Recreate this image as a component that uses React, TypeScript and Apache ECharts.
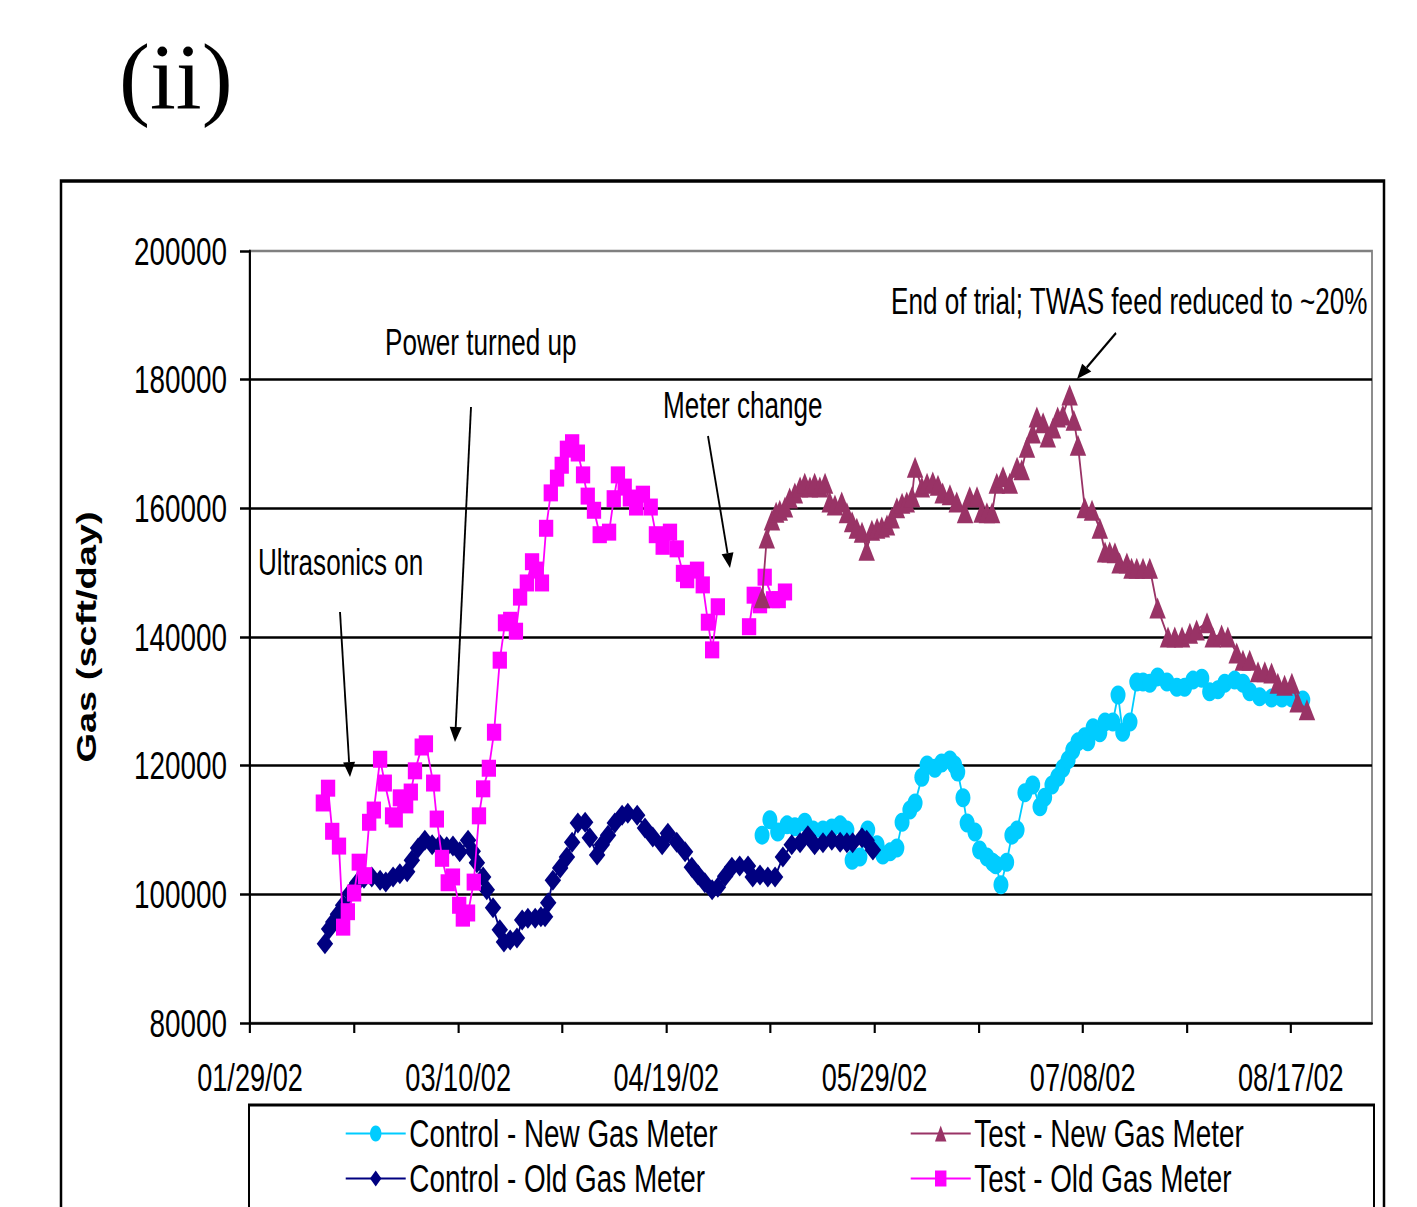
import React, { useEffect, useRef } from "react";
import * as echarts from "echarts";

// The reference figure is horizontally squeezed; we draw on a wider canvas and squeeze it.
const INNER_W = 1982;
const H = 1207;
const SX = 1417 / INNER_W;
const ix = (x: number) => x / SX;

const FONT = '"Liberation Sans", Arial, Helvetica, sans-serif';

// x axis: days since 01/29/02
const xTickDays = [0, 20, 40, 60, 80, 100, 120, 140, 160, 180, 200];
const xLabelDays = [0, 40, 80, 120, 160, 200];
const xTickLabels = ["01/29/02", "03/10/02", "04/19/02", "05/29/02", "07/08/02", "08/17/02"];
const xMax = 215.6;
const yMin = 80000;
const yMax = 200000;
const yStep = 20000;

// Control - New Gas Meter
const controlNewDays = [98.4, 99.9, 101.4, 103.2, 104.7, 106.6, 108.2, 110.1, 111.8, 113.4, 114.7, 115.7, 117.2, 118.7, 120.5, 121.6, 123.0, 124.3, 125.3, 126.8, 127.8, 129.1, 130.1, 131.6, 132.9, 134.5, 135.4, 136.0, 137.0, 137.8, 139.3, 140.2, 141.6, 142.7, 143.3, 144.3, 145.4, 146.4, 147.4, 148.9, 150.4, 151.8, 152.7, 154.1, 155.2, 156.2, 157.2, 158.1, 159.1, 160.4, 161.0, 162.0, 163.3, 164.3, 165.8, 166.8, 167.7, 169.1, 170.4, 171.6, 172.9, 174.4, 176.2, 178.1, 179.6, 181.2, 182.9, 184.4, 186.0, 187.3, 189.2, 190.8, 192.1, 194.0, 196.3, 198.3, 200.2, 202.3];
const controlNewGas = [109200, 111600, 109700, 110800, 110500, 111200, 110000, 110000, 110300, 110800, 110000, 105300, 105800, 110000, 107700, 106100, 106600, 107200, 111200, 113100, 114200, 118200, 120100, 119600, 120400, 120900, 120100, 119000, 115000, 111100, 109700, 106900, 105800, 105000, 104600, 101500, 105000, 109200, 110000, 115800, 117000, 113600, 115100, 117000, 118200, 119600, 120900, 122400, 123700, 124500, 123700, 125900, 125100, 126800, 126800, 131000, 125200, 126800, 133000, 133000, 132800, 133800, 133000, 132200, 132200, 133300, 133600, 131500, 131800, 132800, 133300, 132800, 131500, 130700, 130500, 130500, 130500, 130200];

// Control - Old Gas Meter
const controlOldDays = [14.4, 15.2, 16.0, 16.9, 17.9, 19.2, 20.6, 21.9, 23.4, 25.0, 26.1, 27.5, 28.8, 30.2, 31.1, 32.3, 33.6, 35.0, 36.5, 37.8, 39.0, 40.3, 41.9, 42.8, 43.6, 44.8, 45.5, 46.7, 48.0, 48.8, 50.0, 51.3, 52.3, 53.4, 54.8, 55.9, 56.7, 57.3, 58.2, 59.6, 60.9, 61.9, 63.0, 64.4, 65.3, 66.7, 67.6, 68.8, 70.1, 71.5, 72.6, 74.4, 75.9, 77.4, 79.2, 80.3, 82.0, 83.6, 84.9, 86.1, 87.4, 88.8, 89.9, 91.3, 92.6, 94.1, 95.7, 96.6, 98.0, 99.5, 100.9, 102.4, 104.1, 105.7, 107.2, 108.5, 110.1, 111.8, 113.4, 114.7, 115.8, 117.6, 118.5, 119.7];
const controlOldGas = [92300, 94600, 95700, 96900, 98300, 100200, 101800, 102500, 102700, 102200, 101900, 102700, 103200, 103500, 105300, 107200, 108400, 107700, 107700, 107400, 107500, 106600, 108400, 106700, 104900, 102700, 100700, 97900, 94500, 92600, 92900, 93200, 96000, 96300, 96300, 96500, 96500, 98700, 102200, 104100, 105800, 108100, 111100, 111200, 108800, 106100, 107700, 109200, 111100, 112300, 112600, 112300, 110300, 108900, 107700, 109500, 108100, 106600, 104200, 103000, 101800, 100700, 101100, 102800, 104200, 104400, 104400, 102700, 103000, 102700, 102700, 105800, 107700, 108000, 109100, 107700, 108000, 108400, 108100, 108000, 108000, 108800, 108400, 106900];

// Test - New Gas Meter
const testNewDays = [98.4, 99.3, 100.3, 101.1, 101.8, 102.8, 103.7, 104.7, 105.7, 106.6, 107.6, 108.5, 109.5, 110.5, 111.4, 112.4, 113.7, 114.7, 115.7, 116.6, 117.6, 118.5, 119.5, 120.5, 121.4, 122.4, 123.3, 124.3, 125.3, 126.2, 127.2, 127.8, 129.1, 130.1, 131.2, 132.2, 133.1, 134.5, 135.8, 137.4, 138.3, 139.7, 140.6, 141.6, 142.6, 143.5, 144.7, 146.0, 147.4, 148.3, 149.3, 150.4, 151.2, 152.4, 153.3, 154.3, 155.2, 156.2, 157.5, 158.3, 159.1, 160.4, 161.8, 163.3, 164.3, 165.2, 166.2, 167.1, 168.5, 169.4, 170.4, 171.6, 172.9, 174.4, 176.4, 177.7, 179.1, 180.6, 181.9, 183.9, 185.0, 186.7, 187.9, 189.6, 190.8, 192.1, 193.7, 195.0, 196.3, 197.5, 198.8, 200.2, 201.3, 203.1];
const testNewGas = [146100, 155400, 158200, 159400, 159700, 160200, 161600, 162400, 163300, 163900, 163300, 163900, 163300, 163900, 161000, 160500, 161000, 159300, 157900, 156900, 156300, 153500, 156600, 156900, 157100, 157400, 158500, 160100, 160800, 161000, 161800, 166400, 163300, 163900, 164100, 163600, 162400, 162100, 161000, 159300, 161800, 161800, 159400, 159300, 159300, 163900, 164900, 163900, 166400, 166000, 169500, 171700, 174200, 173300, 171100, 172500, 174200, 174500, 177600, 173700, 169800, 160100, 159700, 156900, 153200, 153200, 153100, 151500, 151500, 150700, 150700, 150700, 150700, 144500, 140000, 140000, 140000, 140600, 141100, 142200, 140000, 140300, 140000, 137500, 136400, 136400, 134600, 134600, 134400, 132800, 132500, 132800, 129900, 128700];

// Test - Old Gas Meter (null = gap at the meter change)
const testOldDays = [14.0, 15.0, 15.8, 17.1, 17.9, 18.8, 20.0, 20.9, 22.1, 22.9, 23.8, 25.0, 25.9, 27.3, 28.0, 28.8, 30.0, 30.9, 31.7, 33.0, 33.8, 35.2, 35.9, 36.9, 38.0, 39.0, 40.2, 40.9, 41.9, 43.0, 44.0, 44.8, 45.9, 46.9, 48.0, 49.0, 50.0, 51.1, 51.9, 53.2, 54.2, 55.1, 56.1, 56.9, 57.8, 59.0, 59.9, 60.9, 61.9, 63.0, 64.0, 64.9, 66.1, 67.2, 69.0, 69.9, 70.7, 72.0, 73.0, 74.2, 75.5, 77.0, 78.0, 79.3, 80.7, 82.0, 83.2, 84.0, 85.9, 87.0, 88.0, 88.8, 89.9, 92.0, 95.9, 96.8, 98.0, 98.9, 100.5, 101.6, 102.8];
const testOldGas = [114200, 116500, 109800, 107500, 94900, 97300, 100200, 105000, 102900, 111200, 113100, 121000, 117300, 112200, 111700, 115000, 113900, 115900, 119200, 122900, 123400, 117300, 111700, 105600, 101800, 102700, 98300, 96300, 97100, 101900, 112200, 116400, 119600, 125200, 136400, 142200, 142600, 140900, 146200, 148400, 151700, 150400, 148400, 156900, 162400, 164700, 166700, 169200, 170200, 168600, 165200, 161900, 159700, 155900, 156300, 161500, 165200, 163300, 161600, 160200, 162200, 160200, 155900, 154100, 156300, 153700, 149900, 148900, 150400, 148100, 142300, 138000, 144700, null, 141600, 146500, 145000, 149300, 145800, 145800, 147000];

const zip = (xs: number[], ys: (number | null)[]) => xs.map((x, i) => [x, ys[i]]);

const annotations = [
  { text: "Ultrasonics on", x: 258, y: 562 },
  { text: "Power turned up", x: 385, y: 342 },
  { text: "Meter change", x: 663, y: 405 },
  { text: "End of trial; TWAS feed reduced to ~20%", x: 891, y: 301 },
];
const arrows = [
  [340, 612, 350, 777],
  [471, 407, 455, 742],
  [708, 436, 730, 568],
  [1116, 333, 1077, 379],
];

function arrowEls(a: number[]) {
  const [x1, y1, x2, y2] = a;
  const dx = x2 - x1, dy = y2 - y1;
  const len = Math.hypot(dx, dy);
  const ux = dx / len, uy = dy / len;
  const hl = 15, hw = 6;
  const bx = x2 - ux * hl, by = y2 - uy * hl;
  const p1 = [bx - uy * hw, by + ux * hw];
  const p2 = [bx + uy * hw, by - ux * hw];
  return [
    { type: "line", silent: true, shape: { x1: ix(x1), y1, x2: ix(bx), y2: by }, style: { stroke: "#000", lineWidth: 2.6 } },
    { type: "polygon", silent: true, shape: { points: [[ix(x2), y2], [ix(p1[0]), p1[1]], [ix(p2[0]), p2[1]]] }, style: { fill: "#000" } },
  ];
}

const seriesDefs = [
  { name: "Control - New Gas Meter", xs: controlNewDays, ys: controlNewGas, color: "#00CCFF", symbol: "circle", size: [21, 19], z: 2, lx: 345, ly: 1134 },
  { name: "Control - Old Gas Meter", xs: controlOldDays, ys: controlOldGas, color: "#000080", symbol: "diamond", size: [23, 21], z: 3, lx: 345, ly: 1179 },
  { name: "Test - Old Gas Meter", xs: testOldDays, ys: testOldGas, color: "#FF00FF", symbol: "rect", size: [20, 17], z: 4, lx: 910, ly: 1179 },
  { name: "Test - New Gas Meter", xs: testNewDays, ys: testNewGas, color: "#993366", symbol: "triangle", size: [23, 21], z: 5, lx: 910, ly: 1134 },
];

export default function App() {
  const ref = useRef<HTMLDivElement>(null);
  useEffect(() => {
    if (!ref.current) return;
    const chart = echarts.init(ref.current, undefined, { renderer: "svg" });
    const graphics: any[] = [
      {
        type: "text", silent: true, x: ix(119), y: 77, scaleX: 1 / SX,
        style: { text: "(ii)", font: '93px "Liberation Serif", "Times New Roman", serif', fill: "#000", textAlign: "left", verticalAlign: "middle", textVerticalAlign: "middle" },
      },
      {
        type: "rect", silent: true, shape: { x: ix(61), y: 181, width: ix(1384) - ix(61), height: 1200 },
        style: { fill: "none", stroke: "#000", lineWidth: 3.5 },
      },
      {
        type: "rect", silent: true, shape: { x: ix(249), y: 1105, width: ix(1374) - ix(249), height: 300 },
        style: { fill: "none", stroke: "#000", lineWidth: 2.8 },
      },
      ...annotations.map((a) => ({
        type: "text", silent: true, x: ix(a.x), y: a.y,
        style: { text: a.text, font: `36.5px ${FONT}`, fill: "#000", textAlign: "left", verticalAlign: "middle", textVerticalAlign: "middle" },
      })),
      ...arrows.flatMap(arrowEls),
    ];
    chart.setOption({
      animation: false,
      backgroundColor: "#fff",
      grid: {
        left: ix(250), right: INNER_W - ix(1372), top: 251, bottom: H - 1023,
        show: true, borderColor: "#808080", borderWidth: 2.5, backgroundColor: "transparent",
      },
      xAxis: {
        type: "value", min: 0, max: xMax,
        axisLine: { show: true, onZero: false, lineStyle: { color: "#000", width: 2.5 } },
        axisTick: { show: true, customValues: xTickDays, length: 10, lineStyle: { color: "#000", width: 3 } },
        axisLabel: {
          customValues: xLabelDays,
          formatter: (v: number) => { const i = xLabelDays.indexOf(Math.round(v)); return i >= 0 ? xTickLabels[i] : ""; },
          fontSize: 38, fontFamily: FONT, color: "#000", margin: 36,
        },
        splitLine: { show: false },
      },
      yAxis: {
        type: "value", min: yMin, max: yMax, interval: yStep,
        axisLine: { show: true, lineStyle: { color: "#000", width: 3 } },
        axisTick: { show: true, length: ix(10), lineStyle: { color: "#000", width: 2.5 } },
        axisLabel: { fontSize: 39, fontFamily: FONT, color: "#000", margin: 32, formatter: (v: number) => String(Math.round(v)) },
        splitLine: { show: true, showMaxLine: false, showMinLine: false, lineStyle: { color: "#000", width: 2.5 } },
        name: "Gas (scft/day)", nameLocation: "middle", nameRotate: 90, nameGap: 209,
        nameTextStyle: { fontSize: 38, fontWeight: "bold", fontFamily: FONT, color: "#000" },
      },
      legend: seriesDefs.map((s) => ({
        data: [s.name], left: ix(s.lx), top: s.ly - 20, padding: 0, itemGap: 0,
        itemWidth: ix(60), itemHeight: 20, selectedMode: false,
        textStyle: { fontSize: 39, fontFamily: FONT, color: "#000" },
      })),
      series: seriesDefs.map((s) => ({
        name: s.name, type: "line", data: zip(s.xs, s.ys), z: s.z,
        symbol: s.symbol, symbolSize: s.size, showSymbol: true,
        connectNulls: false,
        itemStyle: { color: s.color },
        lineStyle: { color: s.color, width: 2.5 },
        emphasis: { disabled: true },
      })),
      graphic: graphics,
    });
    return () => chart.dispose();
  }, []);
  return (
    <div style={{ position: "absolute", left: 0, top: 0, width: 1417, height: H, overflow: "hidden", background: "#fff" }}>
      <div ref={ref} style={{ width: INNER_W, height: H, transform: `scaleX(${SX})`, transformOrigin: "0 0" }} />
    </div>
  );
}
